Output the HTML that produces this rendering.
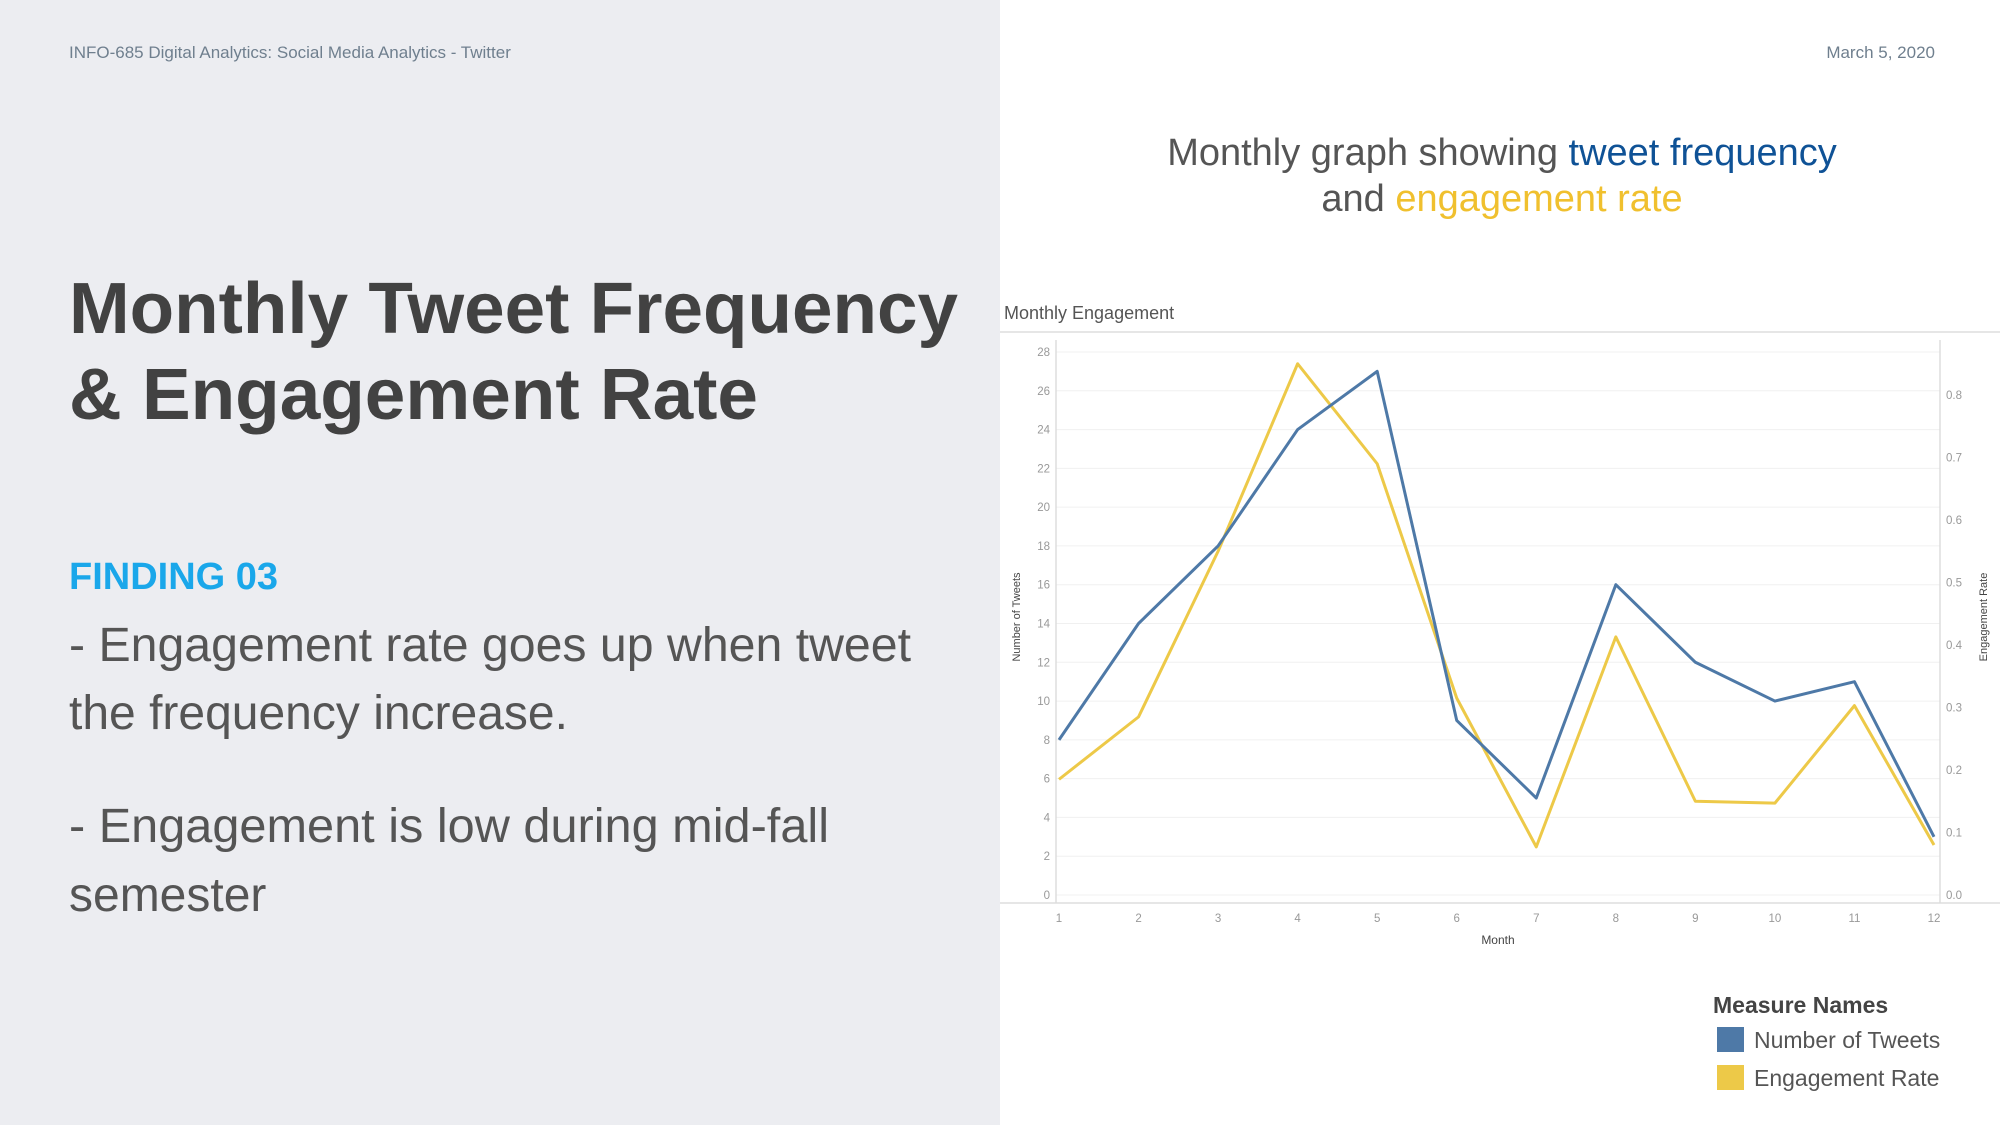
<!DOCTYPE html>
<html><head><meta charset="utf-8"><style>
html,body{margin:0;padding:0;width:2000px;height:1125px;overflow:hidden;background:#fff}
svg{display:block;font-family:"Liberation Sans",sans-serif}
</style></head><body>
<svg id="page" width="2000" height="1125" viewBox="0 0 2000 1125">
<rect x="0" y="0" width="1000" height="1125" fill="#ecedf1"/>
<rect x="1000" y="0" width="1000" height="1125" fill="#ffffff"/>
<text x="69" y="58" font-size="17" fill="#6f7f8e">INFO-685  Digital Analytics: Social Media Analytics - Twitter</text>
<text x="1935" y="58" font-size="17" fill="#6f7f8e" text-anchor="end">March 5, 2020</text>
<text x="1502" y="165" font-size="38" fill="#555" text-anchor="middle">Monthly graph showing <tspan fill="#0f5296">tweet frequency</tspan></text>
<text x="1502" y="211" font-size="38" fill="#555" text-anchor="middle">and <tspan fill="#f0c02e">engagement rate</tspan></text>
<text x="69" y="333" font-size="72" font-weight="bold" fill="#424242" textLength="889" lengthAdjust="spacingAndGlyphs">Monthly Tweet Frequency</text>
<text x="69" y="419" font-size="72" font-weight="bold" fill="#424242" textLength="689" lengthAdjust="spacingAndGlyphs">&amp; Engagement Rate</text>
<text x="69" y="589" font-size="38" font-weight="bold" fill="#1aa7ea">FINDING 03</text>
<text x="69" y="661" font-size="48" fill="#555" textLength="842" lengthAdjust="spacingAndGlyphs">- Engagement rate goes up when tweet</text>
<text x="69" y="729" font-size="48" fill="#555">the frequency increase.</text>
<text x="69" y="842" font-size="48" fill="#555" textLength="760" lengthAdjust="spacingAndGlyphs">- Engagement is low during mid-fall</text>
<text x="69" y="911" font-size="48" fill="#555">semester</text>
<text x="1004" y="319" font-size="18" fill="#555">Monthly Engagement</text>
<line x1="1000" y1="332" x2="2000" y2="332" stroke="#ddd" stroke-width="1.5"/>
<g id="chart"></g>
<text x="1713" y="1013" font-size="23" font-weight="bold" fill="#444">Measure Names</text>
<rect x="1717" y="1027" width="27" height="25" fill="#4e79a7"/>
<text x="1754" y="1048" font-size="23" fill="#555">Number of Tweets</text>
<rect x="1717" y="1065" width="27" height="25" fill="#edc948"/>
<text x="1754" y="1086" font-size="23" fill="#555">Engagement Rate</text>
</svg>
<script>
const months = [1,2,3,4,5,6,7,8,9,10,11,12];
const tweets = [8,14,18,24,27,9,5,16,12,10,11,3];
const engagement = [0.185,0.285,0.55,0.85,0.69,0.315,0.077,0.413,0.15,0.147,0.303,0.08];
const leftTicks = [0,2,4,6,8,10,12,14,16,18,20,22,24,26,28];
const rightTicks = ["0.0","0.1","0.2","0.3","0.4","0.5","0.6","0.7","0.8"];

const NS = "http://www.w3.org/2000/svg";
const g = document.getElementById('chart');
const L = 1056, R = 1940, T = 340, B = 903;
const x = m => 1059 + (m - 1) * (1934 - 1059) / 11;
const yL = v => 895 - v * (895 - 352) / 28;
const yR = v => 895 - v * 625;
function mk(tag, attrs) { const e = document.createElementNS(NS, tag); for (const k in attrs) e.setAttribute(k, attrs[k]); g.appendChild(e); return e; }

leftTicks.forEach(t => {
  const ln = mk('line', {x1: L, x2: R, y1: yL(t), y2: yL(t), stroke: '#f0f0f0', 'stroke-width': 1});
  
  
  const tx = mk('text', {x: 1050, y: yL(t) + 4, 'font-size': 11.5, fill: '#999', 'text-anchor': 'end'});
  tx.textContent = t;
  
  
});
rightTicks.forEach(t => {
  const tx = mk('text', {x: 1946, y: yR(parseFloat(t)) + 4, 'font-size': 11.5, fill: '#999'});
  tx.textContent = t;
  
  
});
months.forEach(m => {
  const tx = mk('text', {x: x(m), y: 922, 'font-size': 11.5, fill: '#999', 'text-anchor': 'middle'});
  tx.textContent = m;
  
  
});
const axes = [[L, T, L, B], [R, T, R, B], [1000, B, 2000, B]];
axes.forEach(a => {
  const ln = mk('line', {x1: a[0], y1: a[1], x2: a[2], y2: a[3], stroke: '#ddd', 'stroke-width': 1.5});
  
  
});
const xt = mk('text', {x: 1498, y: 944, 'font-size': 12, fill: '#444', 'text-anchor': 'middle'});
xt.textContent = 'Month';


const ylt = mk('text', {x: 0, y: 0, 'font-size': 11, fill: '#444', 'text-anchor': 'middle', transform: 'translate(1020,617) rotate(-90)'});
ylt.textContent = 'Number of Tweets';


const yrt = mk('text', {x: 0, y: 0, 'font-size': 11, fill: '#444', 'text-anchor': 'middle', transform: 'translate(1987,617) rotate(-90)'});
yrt.textContent = 'Engagement Rate';



const pe = mk('polyline', {points: months.map((m, i) => x(m) + ',' + yR(engagement[i])).join(' '), fill: 'none', stroke: '#edc948', 'stroke-width': 3, 'stroke-linejoin': 'round'});


const pt = mk('polyline', {points: months.map((m, i) => x(m) + ',' + yL(tweets[i])).join(' '), fill: 'none', stroke: '#4e79a7', 'stroke-width': 3, 'stroke-linejoin': 'round'});


</script>
</body></html>
